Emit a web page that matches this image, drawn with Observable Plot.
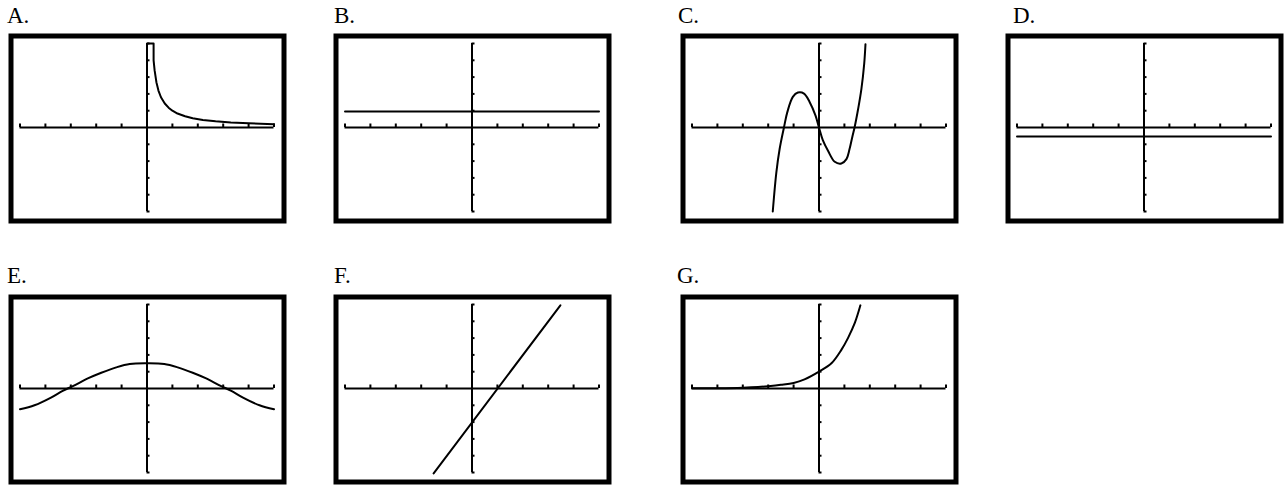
<!DOCTYPE html>
<html><head><meta charset="utf-8">
<script src="https://cdn.jsdelivr.net/npm/d3@7"></script>
<script src="https://cdn.jsdelivr.net/npm/@observablehq/plot@0.6"></script>
<style>
html,body{margin:0;padding:0;background:#fff;}
#root{position:relative;width:1284px;height:485px;overflow:hidden;background:#fff;}
.lbl{position:absolute;font-family:"Liberation Serif","Times New Roman",serif;font-size:23px;line-height:23px;color:#000;white-space:nowrap;}
.pnl{position:absolute;}
.pnl svg{display:block;}
</style></head><body><div id="root"></div>
<script>
// ---- data ----
const panelLabels = ["A.", "B.", "C.", "D.", "E.", "F.", "G."];
const windowX = [-5, 5];
const windowY = [-5, 5];
const xTicks = [-5, -4, -3, -2, -1, 1, 2, 3, 4, 5];
const yTicks = [-5, -4, -3, -2, -1, 1, 2, 3, 4, 5];

// A: decaying curve (x > 0)
const aX = [0.03, 0.26, 0.26, 0.3, 0.37, 0.45, 0.55, 0.7, 0.85, 1.0, 1.2, 1.5, 1.8, 2.2, 2.7, 3.3, 4.0, 5.0];
const aY = [5.0, 5.0, 4.0, 3.4, 2.7, 2.2, 1.8, 1.43, 1.18, 1.0, 0.83, 0.67, 0.55, 0.45, 0.37, 0.3, 0.25, 0.2];
// B: horizontal line above axis
const bX = [-5, 5];
const bY = [0.95, 0.95];
// C: cubic
const cX = [-1.82, -1.68, -1.55, -1.38, -1.25, -1.03, -0.83, -0.59, -0.37, -0.14, 0, 0.15, 0.36, 0.62, 0.88, 1.08, 1.2, 1.32, 1.4, 1.54, 1.67, 1.78, 1.83];
const cY = [-5.0, -2.68, -1.28, 0, 0.9, 1.82, 2.08, 2.02, 1.52, 0.72, 0, -0.75, -1.4, -2.04, -2.14, -1.88, -1.3, -0.5, 0, 1.1, 2.3, 3.8, 4.96];
// D: horizontal line just below axis
const dX = [-5, 5];
const dY = [-0.54, -0.54];
// E: wave
const eX = [-5, -4.43, -3.78, -3.32, -2.92, -2.33, -1.8, -1.21, -0.68, 0, 0.68, 1.21, 1.8, 2.33, 2.92, 3.32, 3.78, 4.43, 5];
const eY = [-1.24, -1.0, -0.54, -0.14, 0.14, 0.6, 0.94, 1.26, 1.46, 1.5, 1.46, 1.26, 0.94, 0.6, 0.14, -0.14, -0.54, -1.0, -1.24];
// F: straight line
const fX = [-1.51, 3.48];
const fY = [-5.05, 4.95];
// G: growth curve
const gX = [-5, -4, -3, -2.4, -2, -1.5, -1.0, -0.57, 0, 0.49, 0.88, 1.14, 1.41, 1.63];
const gY = [0.01, 0.02, 0.05, 0.09, 0.14, 0.22, 0.33, 0.54, 1.0, 1.5, 2.3, 3.0, 3.9, 4.95];

const series = [[aX, aY], [bX, bY], [cX, cY], [dX, dY], [eX, eY], [fX, fY], [gX, gY]];
const curves = ["linear", "linear", "catmull-rom", "linear", "catmull-rom", "linear", "catmull-rom"];

// ---- layout ----
const panelPos = [[8, 33], [333, 33], [680, 33], [1005, 33], [8, 294], [333, 294], [680, 294]];
const labelPos = [[7, 4], [334, 4], [678, 4], [1013, 4], [7, 264], [334, 264], [677, 264]];

function panel(xs, ys, curve) {
  const pts = xs.map((x, i) => ({x, y: ys[i]}));
  return Plot.plot({
    width: 278, height: 190,
    marginTop: 2.5, marginBottom: 2.5, marginLeft: 2.5, marginRight: 2.5,
    x: {domain: windowX, axis: null, insetLeft: 9, insetRight: 10},
    y: {domain: windowY, axis: null, insetTop: 7.5, insetBottom: 9.5},
    style: {background: "#fff", overflow: "visible"},
    marks: [
      Plot.frame({stroke: "#000", strokeWidth: 5}),
      Plot.ruleY([0], {x1: windowX[0], x2: windowX[1], stroke: "#000", strokeWidth: 2}),
      Plot.ruleX([0], {y1: windowY[0], y2: windowY[1], stroke: "#000", strokeWidth: 2}),
      Plot.ruleX(xTicks, {x: d => d, y1: 0, y2: 0, insetTop: -3.5, stroke: "#000", strokeWidth: 2}),
      Plot.ruleY(yTicks, {y: d => d, x1: 0, x2: 0, insetRight: -3, stroke: "#000", strokeWidth: 2}),
      Plot.line(pts, {x: "x", y: "y", curve, stroke: "#000", strokeWidth: 2, clip: true})
    ]
  });
}

const root = document.getElementById("root");
series.forEach(([xs, ys], i) => {
  const lab = document.createElement("div");
  lab.className = "lbl";
  lab.style.left = labelPos[i][0] + "px";
  lab.style.top = labelPos[i][1] + "px";
  lab.textContent = panelLabels[i];
  root.appendChild(lab);
  const wrap = document.createElement("div");
  wrap.className = "pnl";
  wrap.style.left = panelPos[i][0] + "px";
  wrap.style.top = panelPos[i][1] + "px";
  wrap.appendChild(panel(xs, ys, curves[i]));
  root.appendChild(wrap);
});
</script>
</body></html>
